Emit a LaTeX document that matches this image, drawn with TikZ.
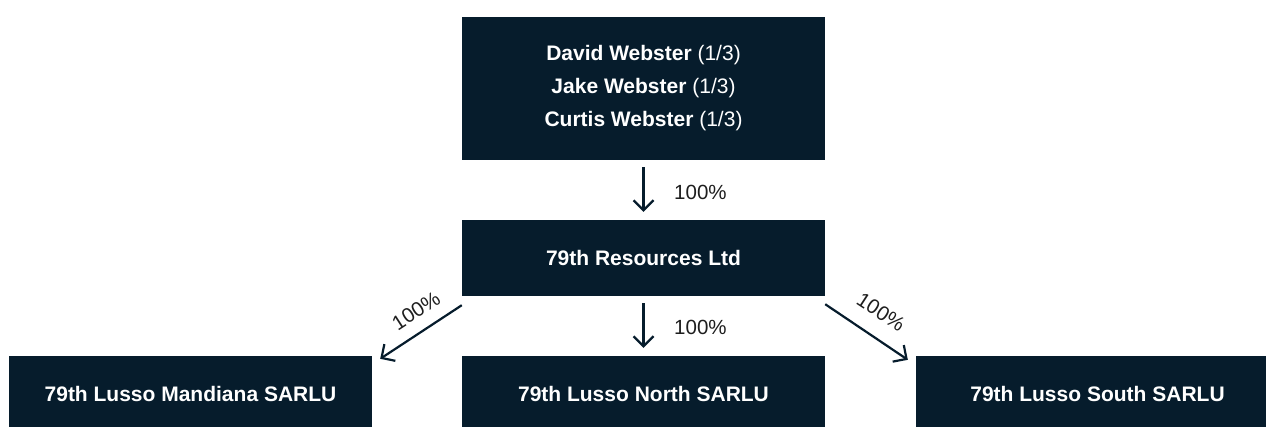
\documentclass[tikz,border=0pt]{standalone}
\usepackage{fontspec}
\setmainfont{Liberation Sans}
\usetikzlibrary{arrows.meta}
\definecolor{navy}{HTML}{061C2C}
\definecolor{lbl}{HTML}{1E1E1E}
\begin{document}
\begin{tikzpicture}[x=1pt,y=-1pt,
  box/.style={fill=navy,text=white,inner sep=0pt,minimum width=363pt,
    font=\fontsize{21}{33}\selectfont\bfseries,align=center},
  arr/.style={draw=navy,line width=2.2pt,-{Straight Barb[length=10pt,width=20pt,line width=2.2pt]}},
  pct/.style={text=lbl,font=\fontsize{20.5}{24}\selectfont,inner sep=0pt}]
\useasboundingbox (0,0) rectangle (1266,426);
\node[box,minimum height=143pt] (top) at (643.5,88.5)
  {David Webster \mdseries(1/3)\\Jake Webster \mdseries(1/3)\\Curtis Webster \mdseries(1/3)};
\node[box,minimum height=76pt] (mid) at (643.5,258) {79th Resources Ltd};
\node[box,minimum height=76pt] (left) at (190.5,394) {79th Lusso Mandiana SARLU};
\node[box,minimum height=76pt] (north) at (643.5,394) {79th Lusso North SARLU};
\node[box,minimum height=76pt] (right) at (1097.5,394) {79th Lusso South SARLU};
\draw[arr] ([yshift=-7pt]top.south) -- ([yshift=8pt]mid.north);
\draw[arr] ([yshift=-7pt]mid.south) -- ([yshift=8pt]north.north);
\draw[arr] ([yshift=-9pt]mid.south west) -- ([xshift=8pt,yshift=-3pt]left.north east);
\draw[arr] ([yshift=-8pt]mid.south east) -- ([xshift=-8pt,yshift=-4pt]right.north west);
\node[pct,anchor=west] (p1) at (674,192) {100\%};
\node[pct,anchor=west] (p2) at (674,327) {100\%};
\node[pct,rotate=33] (p3) at (416,311) {100\%};
\node[pct,rotate=-33] (p4) at (881,312) {100\%};
\end{tikzpicture}
\end{document}
